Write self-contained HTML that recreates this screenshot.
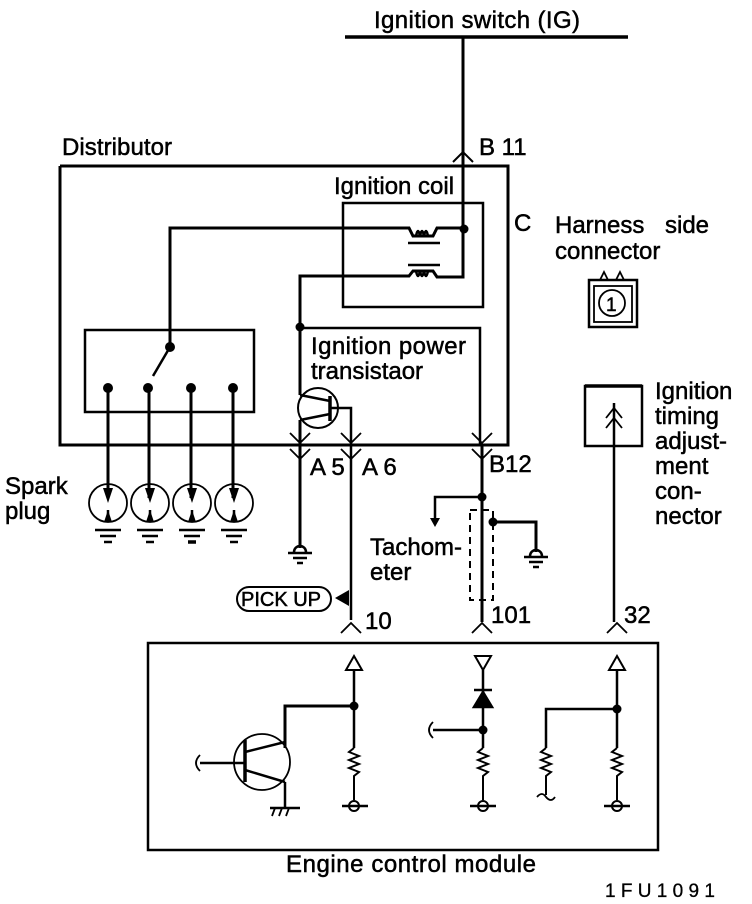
<!DOCTYPE html>
<html><head><meta charset="utf-8"><style>
html,body{margin:0;padding:0;background:#fff;}
svg{display:block;}
text{font-family:"Liberation Sans",Arial,sans-serif;fill:#000;stroke:#000;stroke-width:0.5;}
</style></head><body>
<svg width="752" height="904" viewBox="0 0 752 904" xmlns="http://www.w3.org/2000/svg">
<g stroke="#000" fill="none" stroke-width="2.5">
<line x1="345" y1="37" x2="628" y2="37" stroke-width="3.5"/>
<line x1="463" y1="37" x2="463" y2="277" stroke-width="3"/>
<polyline points="453,162 463,152 473,162" stroke-width="2"/>
<polyline points="60,166 508,166 508,445 60,445 60,166" stroke-width="3"/>
<rect x="343" y="203" width="140" height="104"/>
<path d="M463,228 L437,228 L433,236 L413,236 L409,228 L170,228 L170,347" stroke-width="3"/>
<path d="M416,236 q2,-10 4,0 q2,-10 4,0 q2,-10 4,0"/>
<line x1="408" y1="243" x2="440" y2="243"/>
<line x1="408" y1="265" x2="440" y2="265"/>
<path d="M463,228 L463,277 L437,277 L433,271 L413,271 L409,276 L300,276 L300,395" stroke-width="3"/>
<path d="M416,271 q2,10 4,0 q2,10 4,0 q2,10 4,0"/>
<polyline points="300,328 480,328 480,445"/>
<line x1="482" y1="445" x2="482" y2="622" stroke-width="3"/>
<circle cx="318" cy="408" r="20" stroke-width="2"/>
<line x1="300" y1="395" x2="330" y2="401"/>
<line x1="330" y1="396" x2="330" y2="421" stroke-width="3.5"/>
<line x1="330" y1="414" x2="300" y2="420"/>
<polyline points="331,408 351,408 351,620"/>
<line x1="300" y1="420" x2="300" y2="548" stroke-width="3"/>
<g stroke-width="1.8">
<polyline points="290,433 300,443 310,433"/><polyline points="290,449 300,459 310,449"/>
<polyline points="341,433 351,443 361,433"/><polyline points="341,449 351,459 361,449"/>
<polyline points="472,433 482,443 492,433"/><polyline points="472,449 482,459 492,449"/>
</g>
<rect x="85" y="330" width="169" height="82"/>
<line x1="170" y1="347" x2="153" y2="376"/>
<g stroke-width="3">
<line x1="108" y1="388" x2="108" y2="498"/><line x1="149" y1="388" x2="149" y2="498"/>
<line x1="191" y1="388" x2="191" y2="498"/><line x1="233" y1="388" x2="233" y2="498"/>
</g>
<g stroke-width="1.8">
<circle cx="108" cy="503" r="19"/><circle cx="150" cy="503" r="19"/>
<circle cx="192" cy="503" r="19"/><circle cx="234" cy="503" r="19"/>
</g>
<g stroke-width="2.5">
<line x1="108" y1="510" x2="108" y2="522"/><line x1="150" y1="510" x2="150" y2="522"/>
<line x1="192" y1="510" x2="192" y2="522"/><line x1="234" y1="510" x2="234" y2="522"/>
<line x1="95" y1="530" x2="121" y2="530"/><line x1="100" y1="536" x2="116" y2="536"/><line x1="104" y1="542" x2="112" y2="542"/>
<line x1="137" y1="530" x2="163" y2="530"/><line x1="142" y1="536" x2="158" y2="536"/><line x1="146" y1="542" x2="154" y2="542"/>
<line x1="179" y1="530" x2="205" y2="530"/><line x1="184" y1="536" x2="200" y2="536"/><line x1="188" y1="542" x2="196" y2="542" stroke-width="3.5"/>
<line x1="221" y1="530" x2="247" y2="530"/><line x1="226" y1="536" x2="242" y2="536"/><line x1="230" y1="542" x2="238" y2="542"/>
</g>
<path d="M294,552 a6,6 0 0 1 12,0"/>
<line x1="288" y1="553" x2="312" y2="553"/><line x1="293" y1="558" x2="307" y2="558"/><line x1="297" y1="563" x2="303" y2="563"/>
<polyline points="482,497 435,497 435,518"/>
<rect x="470" y="510" width="23" height="90" stroke-dasharray="7,5" stroke-width="2"/>
<polyline points="493,522 536,522 536,552" stroke-width="3"/>
<path d="M530,556 a6,6 0 0 1 12,0"/>
<line x1="524" y1="557" x2="548" y2="557"/><line x1="529" y1="562" x2="543" y2="562"/><line x1="533" y1="567" x2="539" y2="567"/>
<rect x="237" y="587" width="94" height="24" rx="12" stroke-width="2"/>
<g stroke-width="1.8">
<polyline points="341,633 351,623 361,633"/><polyline points="472,633 482,623 492,633"/><polyline points="607,633 617,623 627,633"/>
</g>
<rect x="585" y="386" width="57" height="60"/>
<line x1="585" y1="386" x2="642" y2="386" stroke-width="3.5"/>
<line x1="614" y1="403" x2="614" y2="622"/>
<polyline points="606,418 614,408 622,418" stroke-width="1.8"/><polyline points="606,428 614,418 622,428" stroke-width="1.8"/>
<rect x="589" y="280" width="48" height="47"/>
<rect x="594" y="286" width="38" height="36" stroke-width="1.8"/>
<circle cx="612" cy="303" r="13" stroke-width="1.8"/>
<path d="M600,280 l4,-8 l4,8 M616,280 l4,-8 l4,8" stroke-width="1.8"/>
<rect x="148" y="643" width="510" height="207"/>
<polygon points="354,656 346,670 362,670" stroke-width="2"/>
<line x1="354" y1="670" x2="354" y2="748"/>
<path d="M354,748 l-5,4 l10,4 l-10,4 l10,4 l-10,4 l10,4 l-5,4 L354,800" stroke-width="2"/>
<polyline points="354,706 285,706 285,748" stroke-width="3"/>
<circle cx="354" cy="806" r="5" stroke-width="2"/><line x1="342" y1="806" x2="368" y2="806"/>
<circle cx="262" cy="762" r="28" stroke-width="1.8"/>
<line x1="245" y1="740" x2="245" y2="782" stroke-width="3.5"/>
<line x1="245" y1="752" x2="285" y2="742"/><line x1="245" y1="770" x2="285" y2="782"/>
<line x1="285" y1="782" x2="285" y2="808"/>
<line x1="270" y1="808" x2="300" y2="808"/>
<path d="M275,808 l-3,8 M282,808 l-3,8 M289,808 l-3,8" stroke-width="1.8"/>
<line x1="200" y1="763" x2="245" y2="763"/>
<path d="M200,755 q-8,8 0,16" stroke-width="1.8"/>
<polygon points="475,656 491,656 483,670" stroke-width="2"/>
<line x1="483" y1="670" x2="483" y2="748"/>
<polygon points="474,707 492,707 483,692" fill="#000"/><line x1="474" y1="690" x2="492" y2="690"/>
<path d="M483,748 l-5,4 l10,4 l-10,4 l10,4 l-10,4 l10,4 l-5,4 L483,800" stroke-width="2"/>
<line x1="433" y1="730" x2="483" y2="730"/>
<path d="M433,722 q-8,8 0,16" stroke-width="1.8"/>
<circle cx="483" cy="806" r="5" stroke-width="2"/><line x1="470" y1="806" x2="496" y2="806"/>
<polygon points="617,656 609,670 625,670" stroke-width="2"/>
<line x1="617" y1="670" x2="617" y2="748"/>
<path d="M617,748 l-5,4 l10,4 l-10,4 l10,4 l-10,4 l10,4 l-5,4 L617,800" stroke-width="2"/>
<polyline points="617,709 546,709 546,748"/>
<path d="M546,748 l-5,4 l10,4 l-10,4 l10,4 l-10,4 l10,4 l-5,4 L546,795" stroke-width="2"/>
<path d="M537,797 q5,-6 9,0 q5,6 9,0" stroke-width="1.8"/>
<circle cx="617" cy="806" r="5" stroke-width="2"/><line x1="604" y1="806" x2="630" y2="806"/>
</g>
<g fill="#000">
<circle cx="464" cy="229" r="4.5"/><circle cx="300" cy="327" r="4.5"/><circle cx="170" cy="347" r="5"/>
<circle cx="108" cy="388" r="5"/><circle cx="148" cy="388" r="5"/><circle cx="191" cy="388" r="5"/><circle cx="233" cy="388" r="5"/>
<circle cx="482" cy="497" r="4.5"/><circle cx="493" cy="522" r="4.5"/>
<polygon points="430,518 440,518 435,527"/>
<polygon points="349,590 349,606 335,598"/>
<circle cx="354" cy="706" r="4.5"/><circle cx="483" cy="730" r="4.5"/><circle cx="617" cy="709" r="4.5"/>
<polygon points="103,488 113,488 108,503"/><polygon points="145,488 155,488 150,503"/><polygon points="187,488 197,488 192,503"/><polygon points="229,488 239,488 234,503"/>
<polygon points="104,522 112,522 108,510"/><polygon points="146,522 154,522 150,510"/><polygon points="188,522 196,522 192,510"/><polygon points="230,522 238,522 234,510"/>
</g>
<g font-size="24">
<text x="374" y="28" textLength="206">Ignition switch (IG)</text>
<text x="62" y="155" textLength="110">Distributor</text>
<text x="479" y="155">B 11</text>
<text x="334" y="194">Ignition coil</text>
<text x="514" y="231">C</text>
<text x="555" y="233">Harness</text><text x="665" y="233">side</text>
<text x="555" y="259">connector</text>
<text x="311" y="354" textLength="155">Ignition power</text>
<text x="311" y="379">transistaor</text>
<text x="310" y="475">A 5</text><text x="362" y="475">A 6</text>
<text x="489" y="472">B12</text>
<text x="5" y="494">Spark</text><text x="5" y="519">plug</text>
<text x="370" y="555">Tachom-</text><text x="370" y="580">eter</text>
<text x="655" y="399">Ignition</text><text x="655" y="424">timing</text><text x="655" y="449">adjust-</text>
<text x="655" y="474">ment</text><text x="655" y="499">con-</text><text x="655" y="524">nector</text>
<text x="365" y="629">10</text><text x="491" y="623">101</text><text x="624" y="623">32</text>
<text x="286" y="872" textLength="250">Engine control module</text>
</g>
<text x="241" y="606" font-size="20">PICK UP</text>
<text x="606" y="311" font-size="19">1</text>
<text x="605" y="897" font-size="19" font-family="Liberation Mono,monospace" textLength="110" style="stroke-width:0.3">1FU1091</text>
</svg>
</body></html>
